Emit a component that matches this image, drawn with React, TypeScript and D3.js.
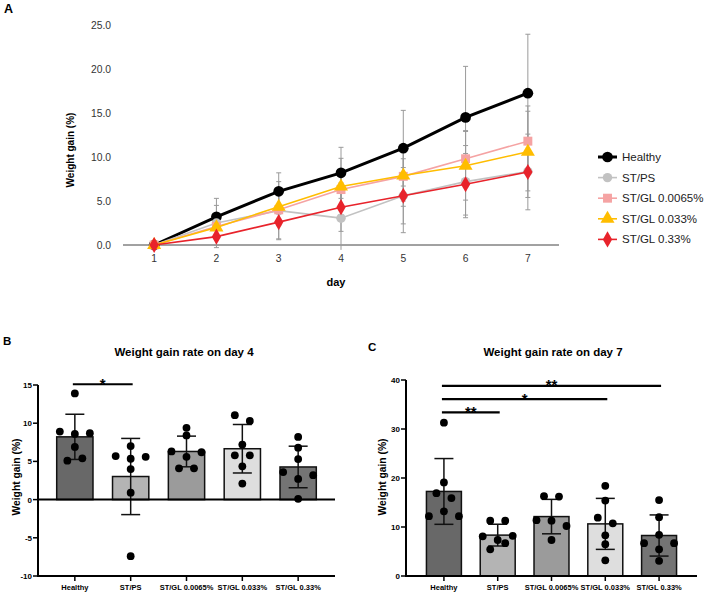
import React, { useEffect, useRef } from 'react';
import * as d3 from 'd3';

// groups shared by all three panels
const groups = ['Healthy', 'ST/PS', 'ST/GL 0.0065%', 'ST/GL 0.033%', 'ST/GL 0.33%'];

// panel A: mean / SD of weight gain (%) per day
const days = [1, 2, 3, 4, 5, 6, 7];
const healthyMean = [0, 3.2, 6.1, 8.2, 11.0, 14.5, 17.25];
const healthySd = [0, 1.3, 2.1, 2.9, 4.3, 5.8, 6.7];
const stpsMean = [0, 2.5, 3.9, 3.05, 5.6, 7.2, 8.35];
const stpsSd = [0, 2.8, 3.3, 5.0, 4.2, 4.1, 2.2];
const gl0065Mean = [0, 2.1, 4.0, 6.3, 7.8, 9.8, 11.8];
const gl0065Sd = [0, 1.2, 1.8, 2.1, 2.8, 3.2, 3.4];
const gl033Mean = [0, 2.0, 4.35, 6.65, 7.9, 9.0, 10.6];
const gl033Sd = [0, 1.1, 2.0, 3.2, 3.5, 3.9, 5.2];
const gl33Mean = [0, 0.95, 2.6, 4.3, 5.6, 6.9, 8.3];
const gl33Sd = [0, 1.0, 1.9, 2.75, 3.2, 3.5, 4.3];
const yTicksA = [0, 5, 10, 15, 20, 25];

// panel B: individual animals on day 4
const day4Healthy = [13.9, 8.9, 8.6, 8.7, 6.9, 5.1, 5.4];
const day4Stps = [7.0, 5.7, 5.35, 5.6, 4.0, 0.9, -7.4];
const day4Gl0065 = [9.4, 8.4, 6.3, 5.6, 6.2, 4.1, 4.1];
const day4Gl033 = [11.05, 10.3, 7.2, 5.8, 5.8, 4.35, 2.1];
const day4Gl33 = [8.2, 6.8, 5.3, 3.6, 2.7, 3.2, 0.1];
const yTicksB = [-10, -5, 0, 5, 10, 15];
const sigB = [{ from: 'Healthy', to: 'ST/PS', at: 15.1, mark: '*' }];

// panel C: individual animals on day 7
const day7Healthy = [31.3, 19.1, 16.9, 15.9, 12.2, 13.2, 12.2];
const day7Stps = [11.3, 11.3, 8.1, 7.35, 8.2, 5.45, 6.7];
const day7Gl0065 = [16.3, 16.2, 11.4, 11.3, 10.2, 7.35];
const day7Gl033 = [18.4, 15.4, 11.9, 10.75, 8.3, 6.5, 3.2];
const day7Gl33 = [15.5, 12.0, 8.4, 6.7, 5.45, 6.7, 3.1];
const yTicksC = [0, 10, 20, 30, 40];
const sigC = [
  { from: 'Healthy', to: 'ST/PS', at: 33.4, mark: '**' },
  { from: 'Healthy', to: 'ST/GL 0.033%', at: 36.1, mark: '*' },
  { from: 'Healthy', to: 'ST/GL 0.33%', at: 38.8, mark: '**' },
];

const lineColors = ['#000000', '#c2c2c2', '#f5a3a3', '#ffbd00', '#e8232b'];
const barColors = ['#686868', '#b4b4b4', '#9b9b9b', '#dedede', '#747474'];
const FONT = "'Liberation Sans', Arial, sans-serif";

// marker shapes for the line chart
const markerPath = (i: number) => {
  const types = [d3.symbolCircle, d3.symbolCircle, d3.symbolSquare, d3.symbolTriangle, d3.symbolDiamond];
  const sizes = [90, 70, 80, 85, 75];
  return d3.symbol().type(types[i]).size(sizes[i])();
};

// spread dots that sit on the same level into rows, centred on the bar
const swarm = (vals: number[], y: (v: number) => number, gap: number, step: number) => {
  const idx = vals.map((_, i) => i).sort((a, b) => vals[b] - vals[a] || a - b);
  const rows: number[][] = [];
  let top = -Infinity;
  idx.forEach((i) => {
    const py = y(vals[i]);
    if (rows.length && py - top < gap) rows[rows.length - 1].push(i);
    else {
      rows.push([i]);
      top = py;
    }
  });
  const off = vals.map(() => 0);
  rows.forEach((r) => {
    r.sort((a, b) => a - b);
    r.forEach((i, k) => (off[i] = (k - (r.length - 1) / 2) * step));
  });
  return off;
};

const drawLinePanel = (svg: any) => {
  const means = [healthyMean, stpsMean, gl0065Mean, gl033Mean, gl33Mean];
  const sds = [healthySd, stpsSd, gl0065Sd, gl033Sd, gl33Sd];
  const x = d3.scaleLinear().domain([0.5, 7.5]).range([123, 559]);
  const y = d3.scaleLinear().domain([0, 25]).range([245, 25]);
  const g = svg.append('g').attr('font-family', FONT);

  g.append('text').attr('x', 4).attr('y', 13).attr('font-size', 12.5).attr('font-weight', 'bold').text('A');

  yTicksA.forEach((t) => {
    g.append('text')
      .attr('x', 111).attr('y', y(t) + 3.6)
      .attr('text-anchor', 'end').attr('font-size', 10.3).attr('fill', '#333')
      .text(t.toFixed(1));
  });
  g.append('line')
    .attr('x1', 123).attr('x2', 559).attr('y1', y(0)).attr('y2', y(0))
    .attr('stroke', '#444').attr('stroke-width', 1);
  days.forEach((d) => {
    g.append('text')
      .attr('x', x(d)).attr('y', 262)
      .attr('text-anchor', 'middle').attr('font-size', 10.3).attr('fill', '#333')
      .text(d);
  });
  g.append('text')
    .attr('x', 336).attr('y', 286)
    .attr('text-anchor', 'middle').attr('font-size', 11).attr('font-weight', 'bold')
    .text('day');
  g.append('text')
    .attr('transform', `translate(74,150) rotate(-90)`)
    .attr('text-anchor', 'middle').attr('font-size', 10).attr('font-weight', 'bold')
    .text('Weight gain (%)');

  // error bars behind everything
  const low = -0.55;
  means.forEach((m, s) => {
    days.forEach((d, i) => {
      if (!sds[s][i]) return;
      const hi = m[i] + sds[s][i];
      const lo = Math.max(low, m[i] - sds[s][i]);
      g.append('line')
        .attr('x1', x(d)).attr('x2', x(d)).attr('y1', y(hi)).attr('y2', y(lo))
        .attr('stroke', '#9a9a9a').attr('stroke-width', 1);
      const caps = m[i] - sds[s][i] >= low ? [hi, lo] : [hi];
      caps.forEach((c) =>
        g.append('line')
          .attr('x1', x(d) - 2.5).attr('x2', x(d) + 2.5).attr('y1', y(c)).attr('y2', y(c))
          .attr('stroke', '#9a9a9a').attr('stroke-width', 1)
      );
    });
  });

  const line = d3.line<number>().x((_, i) => x(days[i])).y((v) => y(v));
  means.forEach((m, s) => {
    g.append('path')
      .attr('d', line(m))
      .attr('fill', 'none')
      .attr('stroke', lineColors[s])
      .attr('stroke-width', s === 0 ? 3 : 1.6);
    m.forEach((v, i) => {
      g.append('path')
        .attr('d', markerPath(s))
        .attr('transform', `translate(${x(days[i])},${y(v)})`)
        .attr('fill', lineColors[s]);
    });
  });

  // legend
  groups.forEach((name, s) => {
    const cy = 157 + s * 20.6;
    g.append('line')
      .attr('x1', 598).attr('x2', 617).attr('y1', cy).attr('y2', cy)
      .attr('stroke', lineColors[s]).attr('stroke-width', s === 0 ? 3 : 1.6);
    g.append('path')
      .attr('d', markerPath(s))
      .attr('transform', `translate(607.5,${cy})`)
      .attr('fill', lineColors[s]);
    g.append('text')
      .attr('x', 622).attr('y', cy + 4)
      .attr('font-size', 11.5).attr('fill', '#222')
      .text(name);
  });
};

type BarOpts = {
  data: number[][];
  x0: number;
  x1: number;
  yDomain: [number, number];
  yRange: [number, number];
  ticks: number[];
  sig: { from: string; to: string; at: number; mark: string }[];
  title: string;
  titleX: number;
  letter: string;
  letterX: number;
  letterY: number;
  labelX: number;
  outer: number;
};

const drawBarPanel = (svg: any, o: BarOpts) => {
  const x = d3.scaleBand().domain(groups).range([o.x0, o.x1]).paddingInner(0.35).paddingOuter(o.outer);
  const y = d3.scaleLinear().domain(o.yDomain).range(o.yRange);
  const g = svg.append('g').attr('font-family', FONT);
  const base = y(Math.max(0, o.yDomain[0]));
  const bottom = o.yRange[0];

  g.append('text').attr('x', o.letterX).attr('y', o.letterY).attr('font-size', 11.5).attr('font-weight', 'bold').text(o.letter);
  g.append('text')
    .attr('x', o.titleX).attr('y', 356)
    .attr('text-anchor', 'middle').attr('font-size', 11.5).attr('font-weight', 'bold')
    .text(o.title);
  g.append('text')
    .attr('transform', `translate(${o.labelX},477) rotate(-90)`)
    .attr('text-anchor', 'middle').attr('font-size', 10.3).attr('font-weight', 'bold')
    .text('Weight gain (%)');

  const bw = x.bandwidth();
  o.data.forEach((vals, k) => {
    const cx = (x(groups[k]) as number) + bw / 2;
    const m = d3.mean(vals) as number;
    const sd = d3.deviation(vals) as number;
    g.append('rect')
      .attr('x', cx - bw / 2).attr('width', bw)
      .attr('y', Math.min(y(m), base)).attr('height', Math.abs(base - y(m)))
      .attr('fill', barColors[k]).attr('stroke', '#111').attr('stroke-width', 1.5);
    g.append('line')
      .attr('x1', cx).attr('x2', cx).attr('y1', y(m + sd)).attr('y2', y(m - sd))
      .attr('stroke', '#111').attr('stroke-width', 1.5);
    [m + sd, m - sd].forEach((c) =>
      g.append('line')
        .attr('x1', cx - 9.5).attr('x2', cx + 9.5).attr('y1', y(c)).attr('y2', y(c))
        .attr('stroke', '#111').attr('stroke-width', 1.5)
    );
    const off = swarm(vals, y, 7, 15);
    vals.forEach((v, i) => {
      g.append('circle').attr('cx', cx + off[i]).attr('cy', y(v)).attr('r', 3.9).attr('fill', '#000');
    });
  });

  // axes
  g.append('line')
    .attr('x1', o.x0).attr('x2', o.x0).attr('y1', y(o.yDomain[1])).attr('y2', bottom + 1)
    .attr('stroke', '#000').attr('stroke-width', 2);
  g.append('line')
    .attr('x1', o.x0 - 1).attr('x2', o.x1).attr('y1', bottom).attr('y2', bottom)
    .attr('stroke', '#000').attr('stroke-width', 2);
  if (o.yDomain[0] < 0) {
    g.append('line')
      .attr('x1', o.x0).attr('x2', o.x1).attr('y1', base).attr('y2', base)
      .attr('stroke', '#000').attr('stroke-width', 2);
  }
  o.ticks.forEach((t) => {
    g.append('line')
      .attr('x1', o.x0 - 5).attr('x2', o.x0).attr('y1', y(t)).attr('y2', y(t))
      .attr('stroke', '#000').attr('stroke-width', 1.5);
    g.append('text')
      .attr('x', o.x0 - 6).attr('y', y(t) + 3)
      .attr('text-anchor', 'end').attr('font-size', 8).attr('font-weight', 'bold')
      .text(String(t));
  });
  groups.forEach((name) => {
    const cx = (x(name) as number) + bw / 2;
    g.append('line')
      .attr('x1', cx).attr('x2', cx).attr('y1', bottom).attr('y2', bottom + 5)
      .attr('stroke', '#000').attr('stroke-width', 1.5);
    g.append('text')
      .attr('x', cx).attr('y', 590)
      .attr('text-anchor', 'middle').attr('font-size', 7.5).attr('font-weight', 'bold')
      .text(name);
  });

  // significance brackets, stars sit just above the line
  o.sig.forEach((s) => {
    const a = (x(s.from) as number) + bw / 2 - 2;
    const b = (x(s.to) as number) + bw / 2 + 2;
    g.append('line')
      .attr('x1', a).attr('x2', b).attr('y1', y(s.at)).attr('y2', y(s.at))
      .attr('stroke', '#000').attr('stroke-width', 2.2);
    g.append('text')
      .attr('x', (a + b) / 2).attr('y', y(s.at) + 4.5)
      .attr('text-anchor', 'middle').attr('font-size', 15).attr('font-weight', 'bold')
      .text(s.mark);
  });
};

const App = () => {
  const ref = useRef<SVGSVGElement>(null);
  useEffect(() => {
    const svg = d3.select(ref.current);
    svg.selectAll('*').remove();
    svg.append('rect').attr('width', 706).attr('height', 593).attr('fill', '#fff');
    drawLinePanel(svg);
    drawBarPanel(svg, {
      data: [day4Healthy, day4Stps, day4Gl0065, day4Gl033, day4Gl33],
      x0: 38, x1: 335, yDomain: [-10, 15], yRange: [576, 385], ticks: yTicksB,
      sig: sigB, title: 'Weight gain rate on day 4', titleX: 184,
      letter: 'B', letterX: 3, letterY: 345, labelX: 20, outer: 0.335,
    });
    drawBarPanel(svg, {
      data: [day7Healthy, day7Stps, day7Gl0065, day7Gl033, day7Gl33],
      x0: 406, x1: 697, yDomain: [0, 40], yRange: [576, 380], ticks: yTicksC,
      sig: sigC, title: 'Weight gain rate on day 7', titleX: 553,
      letter: 'C', letterX: 368, letterY: 351, labelX: 386, outer: 0.38,
    });
  }, []);
  return <svg ref={ref} width={706} height={593} style={{ position: 'absolute', left: 0, top: 0 }} />;
};

export default App;
